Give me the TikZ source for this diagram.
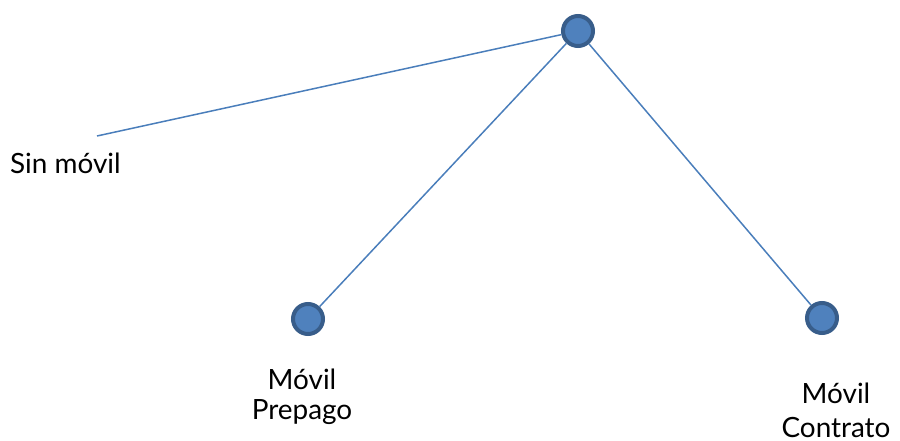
\documentclass[tikz,border=0pt]{standalone}
\usepackage{fontspec}
\setmainfont{Lato}
\definecolor{linec}{HTML}{4A7EBB}
\definecolor{fillc}{HTML}{4F81BD}
\definecolor{edgec}{HTML}{385D8A}
\begin{document}
\begin{tikzpicture}[x=1bp,y=-1bp,
  dot/.style={circle,fill=fillc,draw=edgec,line width=4bp,minimum size=30bp,inner sep=0pt},
  conn/.style={draw=linec,line width=1.5bp},
  lbl/.style={font=\fontsize{28}{30}\selectfont,align=center,inner sep=0pt,anchor=base}]
\useasboundingbox (0,0) rectangle (900,441);
\coordinate (free) at (97,136);
\node[dot] (top) at (578,31) {};
\node[dot] (pre) at (308,319) {};
\node[dot] (con) at (822,318) {};
\draw[conn] (free) -- (top);
\draw[conn] (top) -- (pre);
\draw[conn] (top) -- (con);
\node[lbl,anchor=base west] (sin) at (10,174) {Sin móvil};
\node[lbl] (lpre) at (302,419) {Móvil\\Prepago};
\node[lbl] (lcon) at (836,437) {Móvil\\[4bp]Contrato};
\end{tikzpicture}
\end{document}
